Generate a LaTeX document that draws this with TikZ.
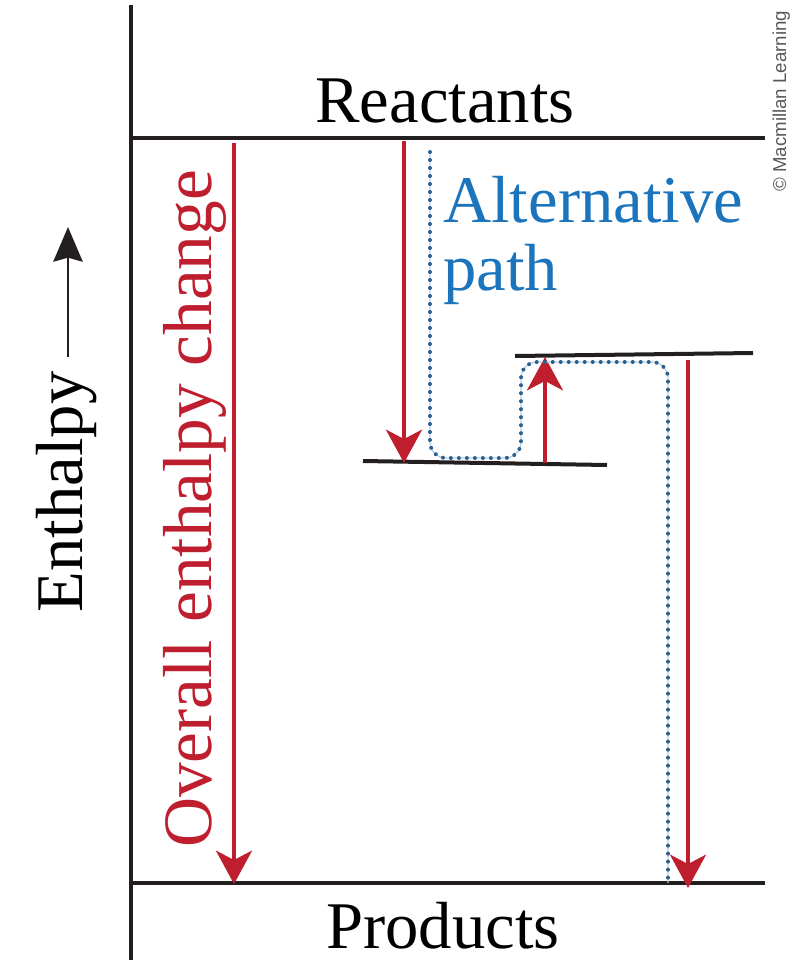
\documentclass[tikz,border=0pt]{standalone}
\usepackage{fontspec}
\setmainfont{Liberation Serif}
\newfontfamily\creditfont{Liberation Sans}
\usetikzlibrary{arrows.meta}
\definecolor{deepred}{HTML}{BE1E2D}
\definecolor{pathblue}{HTML}{1C75BC}
\definecolor{dotblue}{HTML}{2B5F8E}
\definecolor{inkblack}{HTML}{231F20}

\begin{document}
\begin{tikzpicture}[x=0.75pt,y=-0.75pt,
  axisline/.style={draw=inkblack, line width=2.3pt},
  level/.style={draw=inkblack, line width=3pt},
  redarrow/.style={draw=deepred, line width=2.6pt,
    -{Stealth[length=25pt,width=27pt,inset=7pt]}},
  bigtext/.style={font=\fontsize{50}{60}\selectfont, inner sep=0pt},
  pathglow/.style={draw=pathblue!35, line width=0.9pt, rounded corners=12pt},
  pathdots/.style={draw=dotblue, line width=3pt, line cap=round,
    dash pattern=on 0pt off 6pt, rounded corners=12pt}]
\useasboundingbox (0,0) rectangle (791,960);

% enthalpy axis
\coordinate (axtop) at (131,5);
\coordinate (axbot) at (131,960);
\draw[axisline] (axtop) -- (axbot);

% energy levels
\coordinate (rL) at (131,138);  \coordinate (rR) at (765,138);
\coordinate (pL) at (131,883);  \coordinate (pR) at (765,883);
\coordinate (iL) at (363,461);  \coordinate (iR) at (607,465);
\coordinate (tL) at (515,356);  \coordinate (tR) at (753,353);
\draw[level] (rL) -- (rR);
\draw[level] (pL) -- (pR);
\draw[level] (iL) -- (iR);
\draw[level] (tL) -- (tR);

% labels of the levels
\node[bigtext, anchor=base] (reac) at (445,122) {Reactants};
\node[bigtext, anchor=base] (prod) at (443,948) {Products};

% vertical axis label
\node[bigtext, rotate=90, anchor=base] (enth) at (82,492) {Enthalpy};
\coordinate (eA) at (68,357);
\coordinate (eB) at (68,227);
\draw[draw=inkblack, line width=1.6pt, -{Stealth[length=26pt,width=22pt,inset=3pt]}] (eA) -- (eB);

% overall change
\coordinate (o1) at (234,143);
\coordinate (o2) at (234,884);
\draw[redarrow] (o1) -- (o2);
\node[bigtext, rotate=90, anchor=base, text=deepred, font=\fontsize{52}{60}\selectfont] (over) at (211,509) {Overall enthalpy change};

% stepwise arrows
\coordinate (a1) at (404,141);  \coordinate (a2) at (404,463);
\coordinate (b1) at (545,463);  \coordinate (b2) at (545,357);
\coordinate (c1) at (688,360);  \coordinate (c2) at (688,888);
\draw[redarrow] (a1) -- (a2);
\draw[redarrow] (b1) -- (b2);
\draw[redarrow] (c1) -- (c2);

% alternative (dotted) path
\coordinate (s0) at (430,152);
\coordinate (s1) at (430,458);
\coordinate (s2) at (521,458);
\coordinate (s3) at (521,362);
\coordinate (s4) at (668,362);
\coordinate (s5) at (668,883);
\draw[pathglow] (s0) -- (s1) -- (s2) -- (s3) -- (s4) -- (s5);
\draw[pathdots] (s0) -- (s1) -- (s2) -- (s3) -- (s4) -- (s5);

\node[bigtext, anchor=base west, text=pathblue] (alt) at (443,222) {Alternative};
\node[bigtext, anchor=base west, text=pathblue] (altp) at (443,290) {path};

% credit line
\node[rotate=90, anchor=base west, inner sep=0pt, text=black!65] (credit) at (786,192)
  {\creditfont\fontsize{14}{14}\selectfont © Macmillan Learning};
\end{tikzpicture}
\end{document}
